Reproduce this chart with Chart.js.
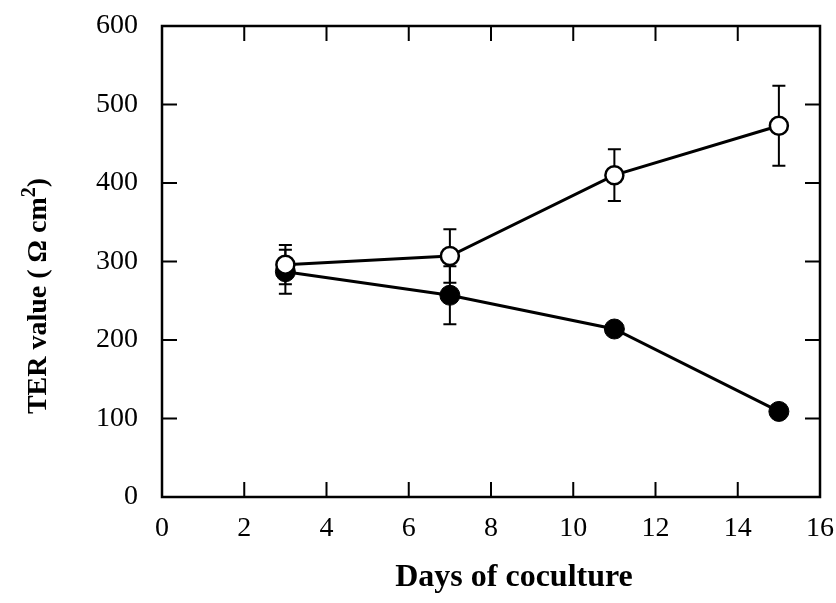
<!DOCTYPE html>
<html>
<head>
<meta charset="utf-8">
<script src="https://cdn.jsdelivr.net/npm/chart.js@4.4.0/dist/chart.umd.min.js"></script>
<style>
  html, body { margin: 0; padding: 0; background: #fff; }
  #wrap { width: 836px; height: 603px; }
</style>
</head>
<body>
<div id="wrap"><canvas id="myChart" width="836" height="603"></canvas></div>
<script>
const days = [3, 7, 11, 15];
const openValues = [296, 307, 410, 473];
const openErrors = [25, 34, 33, 51];
const filledValues = [287, 257, 214, 109];
const filledErrors = [28, 37, 0, 0];
const xTicks = [0, 2, 4, 6, 8, 10, 12, 14, 16];
const yTicks = [0, 100, 200, 300, 400, 500, 600];
const xTitle = 'Days of coculture';
const yTitle = 'TER value ( \u03A9 cm';
const yTitleSup = '2';
const yTitleEnd = ')';

const serif = "'Liberation Serif', 'DejaVu Serif', serif";

// error bars, box, inward ticks on all four sides and axis titles
const framePlugin = {
    id: 'frame',
    beforeDatasetsDraw(chart) {
        const ctx = chart.ctx;
        const x = chart.scales.x;
        const y = chart.scales.y;
        ctx.save();
        ctx.strokeStyle = '#000';
        ctx.lineWidth = 2;
        chart.data.datasets.forEach(function(ds) {
            ds.errors.forEach(function(err, i) {
                if (!err) return;
                const px = x.getPixelForValue(ds.data[i].x);
                const top = y.getPixelForValue(ds.data[i].y + err);
                const bot = y.getPixelForValue(ds.data[i].y - err);
                ctx.beginPath();
                ctx.moveTo(px, top); ctx.lineTo(px, bot);
                ctx.moveTo(px - 6.5, top); ctx.lineTo(px + 6.5, top);
                ctx.moveTo(px - 6.5, bot); ctx.lineTo(px + 6.5, bot);
                ctx.stroke();
            });
        });
        ctx.restore();
    },
    afterDraw(chart) {
        const ctx = chart.ctx;
        const a = chart.chartArea;
        const x = chart.scales.x;
        const y = chart.scales.y;
        const len = 15;
        ctx.save();
        ctx.strokeStyle = '#000';
        ctx.lineWidth = 2.5;
        ctx.strokeRect(a.left, a.top, a.right - a.left, a.bottom - a.top);
        ctx.lineWidth = 2;
        ctx.beginPath();
        xTicks.slice(1, -1).forEach(function(v) {
            const px = x.getPixelForValue(v);
            ctx.moveTo(px, a.bottom); ctx.lineTo(px, a.bottom - len);
            ctx.moveTo(px, a.top); ctx.lineTo(px, a.top + len);
        });
        yTicks.slice(1, -1).forEach(function(v) {
            const py = y.getPixelForValue(v);
            ctx.moveTo(a.left, py); ctx.lineTo(a.left + len, py);
            ctx.moveTo(a.right, py); ctx.lineTo(a.right - len, py);
        });
        ctx.stroke();

        // titles
        ctx.fillStyle = '#000';
        ctx.textBaseline = 'middle';
        ctx.textAlign = 'center';
        ctx.font = 'bold 32px ' + serif;
        ctx.fillText(xTitle, 514, 578);

        ctx.translate(39, 296);
        ctx.rotate(-Math.PI / 2);
        ctx.textAlign = 'left';
        const big = 'bold 28px ' + serif;
        const small = 'bold 20px ' + serif;
        ctx.font = big;
        const w1 = ctx.measureText(yTitle).width;
        const w3 = ctx.measureText(yTitleEnd).width;
        ctx.font = small;
        const w2 = ctx.measureText(yTitleSup).width;
        let sx = -(w1 + w2 + w3) / 2;
        ctx.font = big;
        ctx.fillText(yTitle, sx, 0);
        ctx.font = small;
        ctx.fillText(yTitleSup, sx + w1, -9);
        ctx.font = big;
        ctx.fillText(yTitleEnd, sx + w1 + w2, 0);
        ctx.restore();
    }
};

const ctx = document.getElementById('myChart').getContext('2d');
const myChart = new Chart(ctx, {
    type: 'line',
    data: {
        datasets: [{
            label: 'open',
            data: days.map((d, i) => ({ x: d, y: openValues[i] })),
            errors: openErrors,
            borderColor: '#000',
            borderWidth: 3,
            backgroundColor: '#fff',
            pointBackgroundColor: '#fff',
            pointBorderColor: '#000',
            pointBorderWidth: 2.5,
            pointRadius: 9,
            tension: 0
        }, {
            label: 'filled',
            data: days.map((d, i) => ({ x: d, y: filledValues[i] })),
            errors: filledErrors,
            borderColor: '#000',
            borderWidth: 3,
            backgroundColor: '#000',
            pointBackgroundColor: '#000',
            pointBorderColor: '#000',
            pointBorderWidth: 1,
            pointRadius: 10,
            tension: 0
        }]
    },
    options: {
        responsive: false,
        animation: false,
        layout: { padding: { left: 0, right: 16, top: 26, bottom: 0 } },
        plugins: { legend: { display: false }, tooltip: { enabled: false } },
        scales: {
            x: {
                type: 'linear',
                min: 0, max: 16,
                afterBuildTicks: function(scale) { scale.ticks = xTicks.map(v => ({ value: v })); },
                afterFit: function(scale) { scale.height = 106; scale.paddingLeft = 0; scale.paddingRight = 0; },
                grid: { display: false },
                border: { display: false },
                ticks: { color: '#000', padding: 7, font: { family: serif, size: 28 } }
            },
            y: {
                min: 0, max: 600,
                afterBuildTicks: function(scale) { scale.ticks = yTicks.map(v => ({ value: v })); },
                afterFit: function(scale) { scale.width = 162; scale.paddingTop = 0; scale.paddingBottom = 0; },
                grid: { display: false },
                border: { display: false },
                ticks: { color: '#000', padding: 16, font: { family: serif, size: 28 } }
            }
        }
    },
    plugins: [framePlugin]
});
</script>
</body>
</html>
